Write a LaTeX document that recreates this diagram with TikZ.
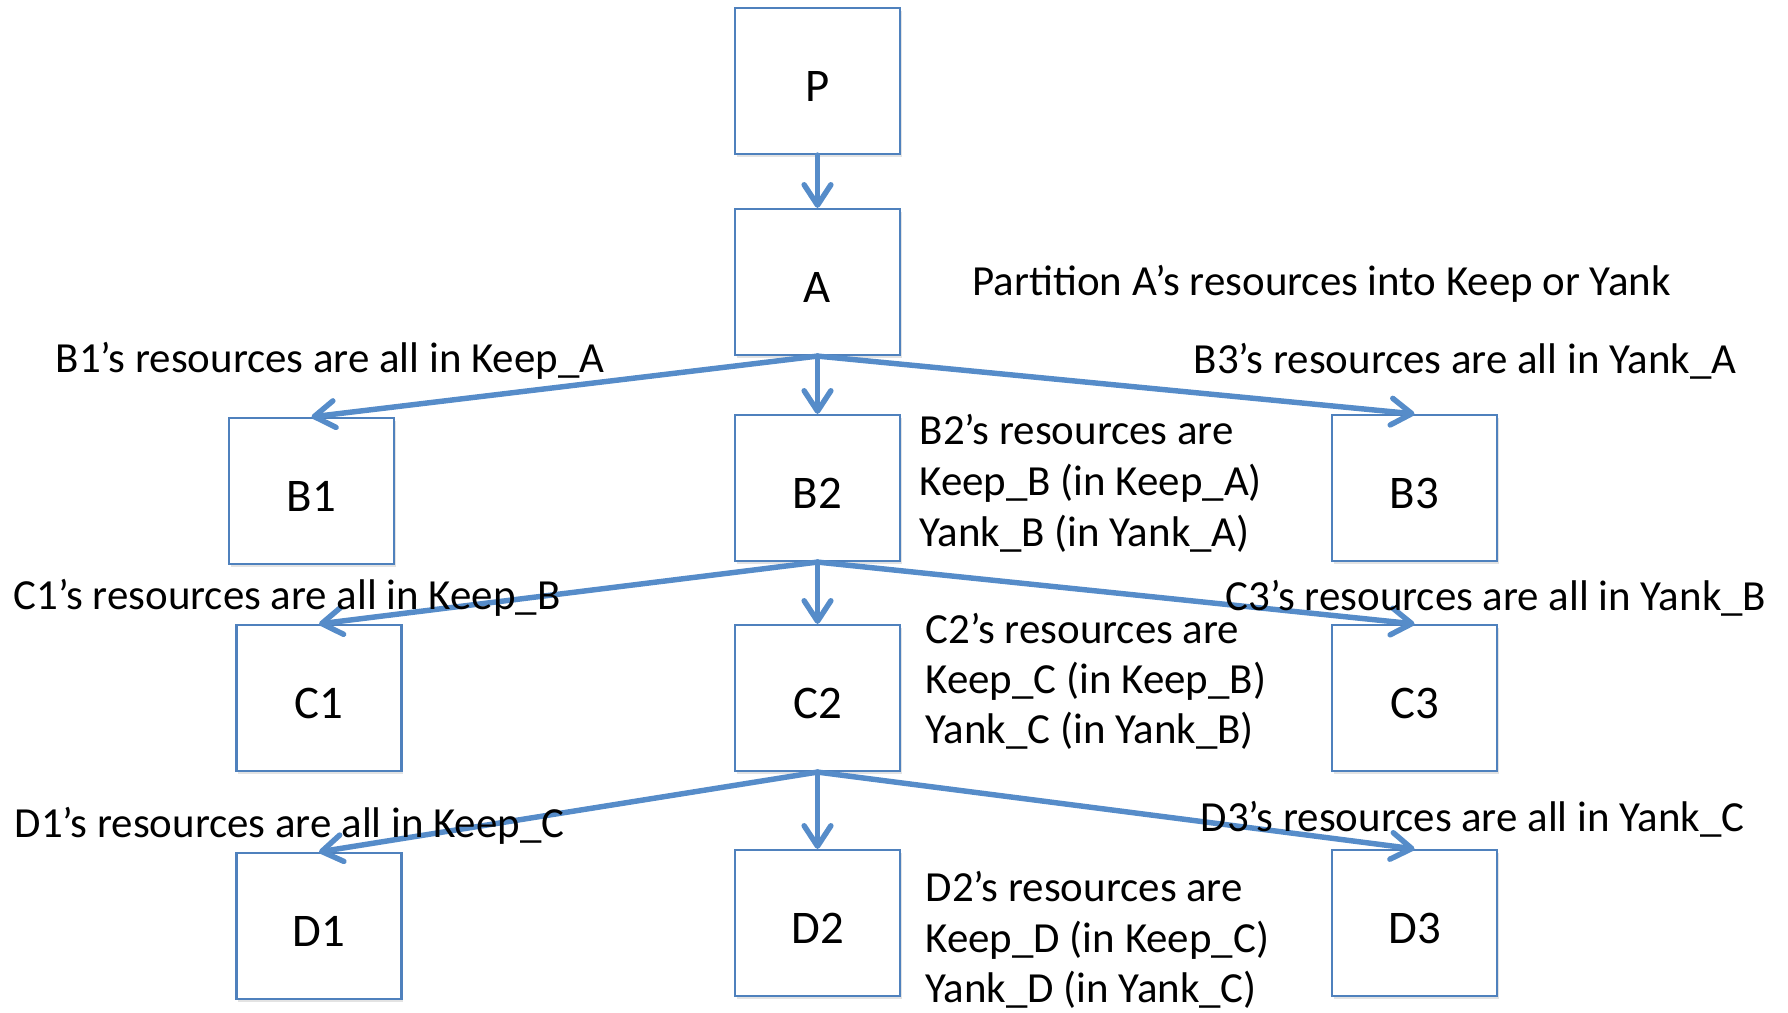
\documentclass[tikz,border=0pt]{standalone}
\usepackage{fontspec}
\setmainfont{Carlito}
\usetikzlibrary{arrows.meta,shadows}
\definecolor{boxblue}{RGB}{79,129,189}
\definecolor{arrowblue}{RGB}{86,140,201}
\begin{document}
\begin{tikzpicture}[x=0.01cm,y=-0.01cm,
  box/.style={draw=boxblue, line width=0.6pt, fill=white, minimum width=1.65cm, minimum height=1.46cm, inner sep=0pt,
    font=\fontsize{13.3}{15}\selectfont, text height=11.4pt, text depth=0pt,
    drop shadow={shadow xshift=0.5pt, shadow yshift=-0.9pt, opacity=0.18, fill=black!60}},
  lbl/.style={anchor=base west, inner sep=0pt, font=\fontsize{12.2}{14}\selectfont},
  conn/.style={draw=arrowblue, line width=1.55pt, line cap=round,
    -{Straight Barb[length=5.8pt,width=7.6pt,line cap=round,line join=round]}}]
\useasboundingbox (0,0) rectangle (1788,1013);
% boxes
\node[box] (P)  at (817.5,81)  {P};
\node[box] (A)  at (817.5,282) {A};
\node[box] (B1) at (311.5,491) {B1};
\node[box] (B2) at (817.5,488) {B2};
\node[box] (B3) at (1414.5,488) {B3};
\node[box] (C1) at (319,698) {C1};
\node[box] (C2) at (817.5,698) {C2};
\node[box] (C3) at (1414.5,698) {C3};
\node[box] (D1) at (319,926) {D1};
\node[box] (D2) at (817.5,923) {D2};
\node[box] (D3) at (1414.5,923) {D3};
% connectors
\draw[conn] (P.south) -- (A.north);
\draw[conn] (A.south) -- (B1.north);
\draw[conn] (A.south) -- (B2.north);
\draw[conn] (A.south) -- (B3.north);
\draw[conn] (B2.south) -- (C1.north);
\draw[conn] (B2.south) -- (C2.north);
\draw[conn] (B2.south) -- (C3.north);
\draw[conn] (C2.south) -- (D1.north);
\draw[conn] (C2.south) -- (D2.north);
\draw[conn] (C2.south) -- (D3.north);
% labels
\node[lbl] (tA) at (972,296) {Partition A’s resources into Keep or Yank};
\node[lbl] (tB1) at (55,373) {B1’s resources are all in Keep\_A};
\node[lbl] (tB3) at (1193,374) {B3’s resources are all in Yank\_A};
\node[lbl] (tB2a) at (919,445) {B2’s resources are};
\node[lbl] (tB2b) at (919,496) {Keep\_B (in Keep\_A)};
\node[lbl] (tB2c) at (919,547) {Yank\_B (in Yank\_A)};
\node[lbl] (tC1) at (13,610) {C1’s resources are all in Keep\_B};
\node[lbl] (tC3) at (1225,611) {C3’s resources are all in Yank\_B};
\node[lbl] (tC2a) at (925,643) {C2’s resources are};
\node[lbl] (tC2b) at (925,693) {Keep\_C (in Keep\_B)};
\node[lbl] (tC2c) at (925,743) {Yank\_C (in Yank\_B)};
\node[lbl] (tD1) at (14,837) {D1’s resources are all in Keep\_C};
\node[lbl] (tD3) at (1200,831) {D3’s resources are all in Yank\_C};
\node[lbl] (tD2a) at (925,901) {D2’s resources are};
\node[lbl] (tD2b) at (925,952) {Keep\_D (in Keep\_C)};
\node[lbl] (tD2c) at (925,1002) {Yank\_D (in Yank\_C)};
\end{tikzpicture}
\end{document}
